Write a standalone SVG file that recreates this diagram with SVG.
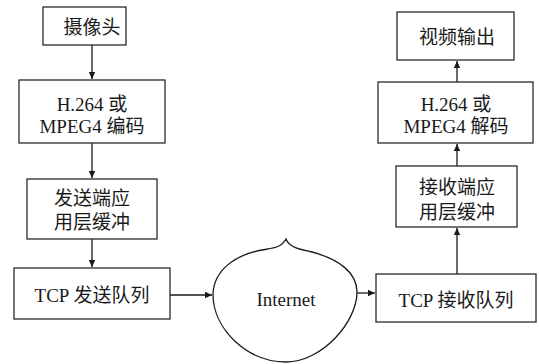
<svg xmlns="http://www.w3.org/2000/svg" width="539" height="364" viewBox="0 0 539 364">
<defs>
<style>
.box{fill:#fff;stroke:#2a2a2a;stroke-width:1.3}
.t{font-family:"Noto Sans CJK SC",sans-serif;font-size:19px;fill:#1a1a1a;text-anchor:middle}
.l{font-family:"Times New Roman","Liberation Serif","DejaVu Serif",serif;font-size:19px}
.c{fill:none;stroke:#1a1a1a;stroke-width:1.3}
</style>
<marker id="ah" markerWidth="8" markerHeight="8" refX="7" refY="4" orient="auto" markerUnits="userSpaceOnUse">
<path d="M0,0.8 L7,4 L0,7.2 Z" fill="#1a1a1a"/>
</marker>
</defs>
<rect width="539" height="364" fill="#fff"/>
<g id="connectors">
<line class="c" x1="92" y1="45" x2="92" y2="79" marker-end="url(#ah)"/>
<line class="c" x1="92" y1="143" x2="92" y2="178" marker-end="url(#ah)"/>
<line class="c" x1="92" y1="239" x2="92" y2="267" marker-end="url(#ah)"/>
<line class="c" x1="170" y1="295" x2="212" y2="295" marker-end="url(#ah)"/>
<line class="c" x1="357" y1="293" x2="375" y2="293" marker-end="url(#ah)"/>
<line class="c" x1="457" y1="274" x2="457" y2="228" marker-end="url(#ah)"/>
<line class="c" x1="457" y1="166" x2="457" y2="144" marker-end="url(#ah)"/>
<line class="c" x1="457" y1="82" x2="457" y2="61" marker-end="url(#ah)"/>
</g>
<g id="camera">
<rect class="box" x="43" y="7" width="83" height="38"/>
<text class="t" x="92" y="34" font-size="20">摄像头</text>
</g>
<g id="encode">
<rect class="box" x="19" y="80" width="146" height="63"/>
<text class="t" x="92" y="111"><tspan class="l">H.264 </tspan>或</text>
<text class="t" x="92" y="133"><tspan class="l">MPEG4 </tspan>编码</text>
</g>
<g id="sendbuf">
<rect class="box" x="27" y="179" width="130" height="60"/>
<text class="t" x="92" y="205" font-size="20">发送端应</text>
<text class="t" x="92" y="229" font-size="20">用层缓冲</text>
</g>
<g id="tcpsend">
<rect class="box" x="14" y="268" width="156" height="51"/>
<text class="t" x="92" y="302"><tspan class="l">TCP </tspan>发送队列</text>
</g>
<g id="internet">
<path class="c" d="M213,294 C214,270 235,255 262,250 C273,248 281,248 286,239 C289,247 298,249 312,252 C338,259 357,272 357,292 C357,322 322,362 286,362 C248,362 213,330 213,294 Z"/>
<text class="t" x="286" y="306"><tspan class="l" font-size="20">Internet</tspan></text>
</g>
<g id="tcprecv">
<rect class="box" x="376" y="274" width="160" height="48"/>
<text class="t" x="456" y="307"><tspan class="l">TCP </tspan>接收队列</text>
</g>
<g id="recvbuf">
<rect class="box" x="396" y="166" width="121" height="61"/>
<text class="t" x="457" y="194" font-size="20">接收端应</text>
<text class="t" x="457" y="219" font-size="20">用层缓冲</text>
</g>
<g id="decode">
<rect class="box" x="378" y="82" width="155" height="61"/>
<text class="t" x="456" y="111"><tspan class="l">H.264 </tspan>或</text>
<text class="t" x="456" y="133"><tspan class="l">MPEG4 </tspan>解码</text>
</g>
<g id="output">
<rect class="box" x="397" y="12" width="117" height="48"/>
<text class="t" x="457" y="44" font-size="20">视频输出</text>
</g>
</svg>
